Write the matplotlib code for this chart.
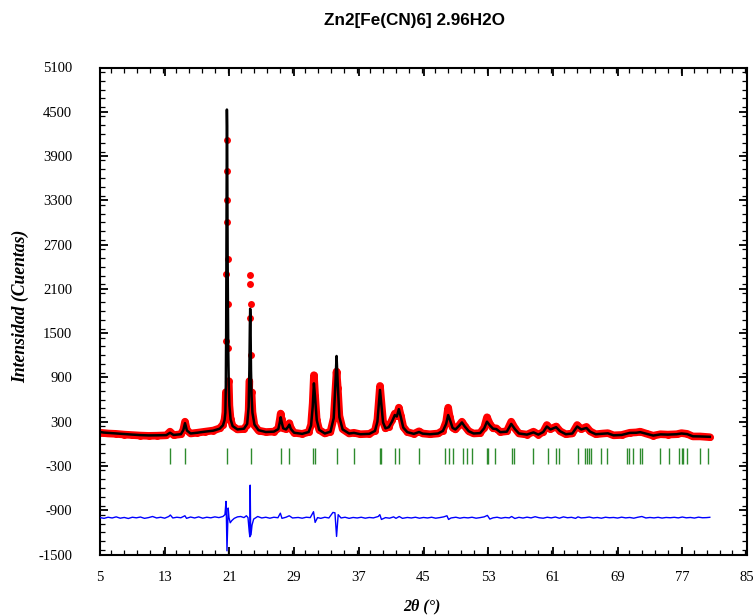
import matplotlib
matplotlib.use("Agg")
import matplotlib.pyplot as plt
import numpy as np
from matplotlib.ticker import MultipleLocator

plt.rcParams["axes.unicode_minus"] = False

# ---------------- data ----------------
# (2theta, observed, calculated)
profile = [
    (5.0, 150, 160), (5.5, 145, 152), (6.0, 140, 148), (7.0, 135, 140), (8.0, 125, 132),
    (9.0, 118, 125), (10.0, 112, 118), (11.0, 108, 114), (12.0, 110, 115), (13.2, 115, 118),
    (13.66, 165, 150), (14.1, 118, 120), (15.0, 130, 130), (15.3, 190, 185), (15.51, 300, 280),
    (15.75, 185, 180), (16.2, 140, 140), (17.0, 150, 150), (18.0, 165, 165), (19.0, 180, 178),
    (19.8, 210, 205), (20.2, 260, 250), (20.4, 330, 320), (20.5, 430, 420), (20.56, 700, 800),
    (20.6, 1400, 1500), (20.63, 2300, 2600), (20.66, 3300, 3800), (20.69, 4120, 4530),
    (20.72, 3700, 4300), (20.75, 3000, 3400), (20.78, 2500, 2500), (20.82, 1900, 1800),
    (20.86, 1300, 1250), (20.92, 850, 800), (21.0, 520, 520), (21.15, 330, 330), (21.4, 240, 240),
    (22.0, 195, 195), (22.8, 200, 205), (23.2, 260, 270), (23.38, 450, 500), (23.47, 850, 1000),
    (23.53, 1700, 1600), (23.57, 2290, 1830), (23.6, 2170, 1750), (23.63, 1900, 1400),
    (23.67, 1200, 1000), (23.74, 700, 650), (23.85, 430, 420), (24.1, 250, 260), (24.6, 180, 185),
    (25.5, 160, 160), (26.5, 165, 165), (27.05, 210, 200), (27.25, 340, 300), (27.34, 410, 360),
    (27.45, 330, 300), (27.65, 210, 210), (28.0, 200, 195), (28.25, 240, 230), (28.41, 280, 260),
    (28.6, 210, 200), (29.0, 150, 150), (30.0, 135, 135), (30.8, 160, 160), (31.1, 260, 250),
    (31.3, 550, 500), (31.45, 930, 820), (31.6, 650, 620), (31.8, 320, 320), (32.1, 190, 190),
    (32.8, 140, 140), (33.5, 165, 165), (33.9, 350, 350), (34.1, 700, 800), (34.25, 980, 1190),
    (34.4, 760, 800), (34.6, 380, 360), (35.0, 200, 195), (35.8, 140, 140), (36.4, 150, 148),
    (37.2, 130, 130), (38.3, 135, 135), (39.0, 180, 175), (39.3, 330, 300), (39.5, 620, 560),
    (39.62, 785, 730), (39.8, 560, 520), (40.0, 300, 290), (40.3, 210, 210), (40.7, 230, 225),
    (41.1, 320, 300), (41.45, 410, 390), (41.7, 380, 370), (41.95, 490, 470), (42.2, 380, 360),
    (42.5, 230, 220), (43.0, 160, 158), (43.8, 135, 135), (44.45, 170, 160), (44.9, 140, 138),
    (45.8, 130, 130), (46.8, 140, 140), (47.4, 180, 175), (47.8, 300, 270), (48.05, 490, 390),
    (48.25, 360, 330), (48.6, 220, 215), (48.95, 195, 195), (49.4, 250, 245), (49.75, 300, 290),
    (50.1, 240, 235), (50.6, 170, 170), (51.2, 140, 140), (52.0, 145, 145), (52.5, 220, 210),
    (52.85, 360, 300), (53.2, 270, 250), (53.6, 210, 205), (54.0, 210, 200), (54.5, 160, 158),
    (55.3, 170, 165), (55.85, 300, 270), (56.3, 210, 200), (56.8, 140, 140), (57.8, 125, 125),
    (58.6, 165, 155), (59.2, 125, 125), (59.8, 160, 160), (60.25, 255, 235), (60.7, 200, 195),
    (61.4, 235, 225), (61.9, 170, 170), (62.6, 130, 130), (63.4, 140, 140), (64.0, 255, 235),
    (64.5, 200, 195), (65.15, 230, 215), (65.6, 170, 165), (66.3, 130, 130), (67.2, 140, 138),
    (67.8, 145, 142), (68.5, 115, 115), (69.5, 120, 120), (70.5, 150, 148), (71.3, 155, 150),
    (71.8, 165, 158), (72.5, 140, 138), (73.4, 110, 112), (74.3, 130, 128), (75.2, 125, 125),
    (76.3, 130, 130), (76.9, 145, 140), (77.6, 135, 132), (78.3, 100, 102), (79.2, 100, 100),
    (80.4, 90, 95),
]
two_theta = [p[0] for p in profile]
i_obs = [p[1] for p in profile]
i_calc = [p[2] for p in profile]

# difference curve (Yobs - Ycalc, shifted), (2theta, value)
difference = [
    (5.0, -1000), (5.5, -1010), (6.0, -995), (6.5, -1005), (7.0, -990), (7.5, -1008), (8.0, -998),
    (8.5, -1012), (9.0, -995), (9.5, -1003), (10.0, -992), (10.5, -1010), (11.0, -1000),
    (11.5, -985), (12.0, -1005), (12.5, -995), (13.0, -1008), (13.5, -985), (13.7, -965),
    (14.0, -1005), (14.5, -995), (15.0, -1002), (15.5, -975), (15.7, -1010), (16.2, -992),
    (16.7, -1005), (17.2, -990), (17.7, -1008), (18.2, -995), (18.7, -1003), (19.2, -990),
    (19.7, -1000), (20.2, -985), (20.45, -960), (20.58, -780), (20.63, -1000), (20.7, -1450),
    (20.76, -1200), (20.85, -870), (20.95, -1000), (21.1, -1070), (21.3, -1040), (21.6, -1010),
    (22.0, -990), (22.4, -985), (22.8, -1000), (23.1, -975), (23.3, -1000), (23.45, -1190),
    (23.53, -1260), (23.57, -560), (23.62, -1100), (23.67, -1235), (23.8, -1100), (24.0, -1020),
    (24.5, -985), (25.0, -1005), (25.5, -995), (26.0, -1008), (26.5, -995), (27.0, -1002),
    (27.3, -940), (27.5, -1010), (28.0, -995), (28.4, -975), (28.8, -1005), (29.5, -998),
    (30.0, -1008), (30.5, -995), (31.0, -1000), (31.4, -920), (31.6, -1065), (31.9, -1000),
    (32.3, -1010), (32.8, -995), (33.3, -1005), (33.8, -930), (34.05, -935), (34.25, -1255),
    (34.45, -960), (34.8, -1005), (35.3, -995), (35.8, -1010), (36.3, -998), (36.8, -1005),
    (37.3, -995), (37.8, -1008), (38.3, -998), (38.8, -1004), (39.4, -985), (39.6, -960),
    (39.8, -1025), (40.3, -1000), (40.8, -1008), (41.3, -990), (41.6, -1010), (42.0, -985),
    (42.4, -1010), (43.0, -998), (43.5, -1005), (44.0, -995), (44.5, -1008), (45.0, -998),
    (45.5, -1005), (46.0, -995), (46.5, -1008), (47.0, -1000), (47.5, -990), (47.9, -975),
    (48.1, -1025), (48.4, -1005), (49.0, -995), (49.5, -1008), (50.0, -998), (50.5, -1004),
    (51.0, -995), (51.5, -1008), (52.0, -1000), (52.5, -990), (52.9, -970), (53.2, -1020),
    (53.6, -1003), (54.1, -995), (54.6, -1008), (55.1, -998), (55.6, -1004), (55.9, -985),
    (56.3, -1012), (56.8, -996), (57.3, -1006), (57.8, -994), (58.3, -1004), (58.8, -988),
    (59.3, -1002), (59.8, -1008), (60.3, -995), (60.8, -1004), (61.3, -992), (61.8, -1008),
    (62.3, -990), (62.8, -1002), (63.3, -996), (63.8, -1010), (64.1, -990), (64.5, -1004),
    (65.0, -1000), (65.5, -992), (66.0, -1005), (66.5, -998), (67.0, -1008), (67.5, -995),
    (68.0, -1002), (68.5, -998), (69.0, -1006), (69.5, -994), (70.0, -1004), (70.5, -998),
    (71.0, -1008), (71.5, -995), (72.0, -985), (72.5, -1005), (73.0, -998), (73.5, -1004),
    (74.0, -996), (74.5, -1006), (75.0, -998), (75.5, -1002), (76.0, -996), (76.5, -1004),
    (77.0, -992), (77.5, -1003), (78.0, -998), (78.5, -1006), (79.0, -994), (79.5, -1002),
    (80.0, -1000), (80.4, -996),
]
diff_x = [d[0] for d in difference]
diff_y = [d[1] for d in difference]

reflections = [13.66, 15.51, 20.74, 23.63, 27.34, 28.41, 31.37, 31.58, 34.27, 36.41, 39.62, 39.80,
               41.48, 42.01, 44.48, 47.66, 48.19, 48.69, 49.85, 50.34, 50.96, 52.81, 53.01, 53.84,
               55.91, 56.23, 58.58, 60.43, 61.35, 61.79, 64.14, 64.97, 65.25, 65.50, 65.71, 66.91,
               67.65, 70.13, 70.45, 70.87, 71.77, 72.05, 74.24, 75.39, 76.63, 76.93, 77.12, 77.62,
               79.19, 80.22]
refl_low, refl_high = -270, -60

x_ticks = [5, 13, 21, 29, 37, 45, 53, 61, 69, 77, 85]
y_ticks = [-1500, -900, -300, 300, 900, 1500, 2100, 2700, 3300, 3900, 4500, 5100]

title = "Zn2[Fe(CN)6] 2.96H2O"
xlabel = "2\u03b8 (\u00b0)"
ylabel = "Intensidad (Cuentas)"

# ---------------- figure ----------------
fig = plt.figure(figsize=(7.55, 6.16), dpi=100)
ax = fig.add_axes([100 / 755, 1 - 554.5 / 616, 647 / 755, 487 / 616])

# observed: thick band in the low part, discrete points on the sharp tall peaks
obs_arr = np.array(i_obs, dtype=float)
band = np.where(obs_arr < 1000, obs_arr, np.nan)
ax.plot(two_theta, band, color="#ff0000", lw=5.5, solid_joinstyle="round",
        solid_capstyle="round", zorder=2)
ax.plot(two_theta, i_obs, "o", color="#ff0000", ms=5, mew=0, zorder=2)
ax.plot(two_theta, i_calc, color="black", lw=1.8, zorder=3)
ax.plot(diff_x, diff_y, color="#0000ff", lw=1.0, zorder=3)
ax.vlines(reflections, refl_low, refl_high, color="#2e8b2e", lw=1.0, zorder=2)

ax.set_xlim(5, 85)
ax.set_ylim(-1500, 5100)
ax.set_xticks(x_ticks)
ax.set_yticks(y_ticks)
ax.xaxis.set_minor_locator(MultipleLocator(1.6))
ax.yaxis.set_minor_locator(MultipleLocator(120))
ax.tick_params(which="both", direction="in", top=True, right=True)
ax.tick_params(which="major", length=6, width=1.3)
ax.tick_params(which="minor", length=3.6, width=0.9)
ax.tick_params(axis="y", which="major", pad=20)
ax.tick_params(axis="x", which="major", pad=12)
for lab in ax.get_xticklabels() + ax.get_yticklabels():
    lab.set_fontfamily("Liberation Serif")
    lab.set_fontsize(10.5)
for sp in ax.spines.values():
    sp.set_linewidth(1.5)

fig.text(415 / 755, 1 - 20 / 616, title, ha="center", va="center",
         fontfamily="Liberation Sans", fontweight="bold", fontsize=12.3)
fig.text(422 / 755, 1 - 606 / 616, xlabel, ha="center", va="center",
         fontfamily="Liberation Serif", fontweight="bold", fontstyle="italic", fontsize=11.5)
fig.text(21 / 755, 1 - 306 / 616, ylabel, ha="center", va="center", rotation=90,
         fontfamily="Liberation Serif", fontweight="bold", fontstyle="italic", fontsize=12.7)

fig.savefig("out.png", dpi=100)
